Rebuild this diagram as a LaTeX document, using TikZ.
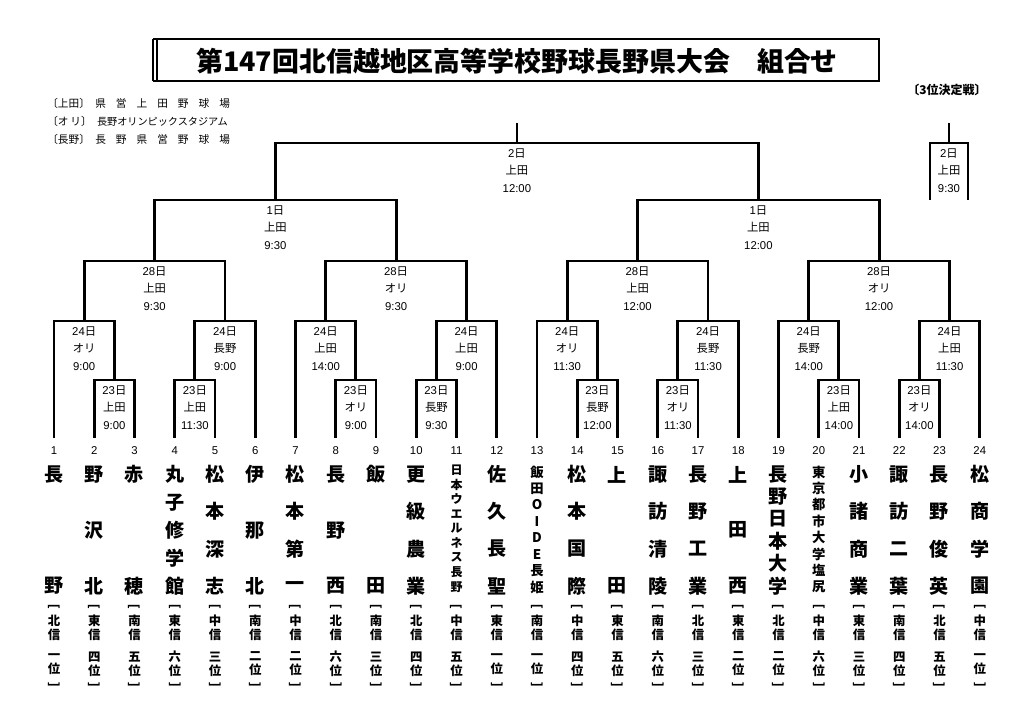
\documentclass[tikz,border=0pt]{standalone}
\usepackage{fontspec}
\setmainfont{Liberation Sans}
\newfontfamily\jp{Noto Sans CJK JP}
\begin{document}
\begin{tikzpicture}[x=0.75pt,y=-0.75pt,
  br/.style={line width=2.1pt},
  lbl/.style={font=\fontsize{8.5}{13.1}\selectfont, align=center, anchor=north, inner sep=0pt},
  num/.style={font=\fontsize{8.5}{10}\selectfont, inner sep=0pt},
  tch/.style={font=\jp\bfseries\fontsize{14.3}{14}\selectfont, inner sep=0pt},
  tsm/.style={font=\jp\bfseries\fontsize{9}{9}\selectfont, inner sep=0pt},
  tmd/.style={font=\jp\bfseries\fontsize{10}{10}\selectfont, inner sep=0pt},
  rk/.style={font=\jp\bfseries\fontsize{9.3}{10.5}\selectfont, inner sep=0pt, align=center},
  leg/.style={font=\jp\fontsize{8}{9}\selectfont, inner sep=0pt, anchor=west}]
\useasboundingbox (0,0) rectangle (1024,720);

\newcommand\team[6]{%
  \pgfmathsetmacro\tx{54+(#1-1)*40.25}%
  \foreach \c [count=\k] in {#6} {%
    \pgfmathsetmacro\yy{#2+(\k-1)*(#3-#2)/(#5-1)}%
    \node[#4] (c#1-\k) at (\tx,\yy) {\c};
  }}
\newcommand\rank[3]{%
  \pgfmathsetmacro\tx{54+(#1-1)*40.25}%
  \node[rk,rotate=-90] (r#1a) at (\tx,603) {［};
  \node[rk] (r#1b) at (\tx,628) {#2\\信};
  \node[rk] (r#1c) at (\tx,664) {#3\\位};
  \node[rk,rotate=-90] (r#1d) at (\tx,689) {］};}
\newcommand\mlab[4]{\node[lbl,yshift=-4pt] (L#1) at (#1) {#2{\jp 日}\\{\jp #3}\\#4};}

% title
\draw[line width=1.5pt] (153,39) -- (879,39) -- (879,81.5) -- (153,81.5);
\draw[line width=0.8pt] (153,39) -- (153,81.5);
\draw[line width=1.8pt] (157,39) -- (157,81.5);
\node[font=\jp\bfseries\fontsize{20.2}{24}\selectfont, inner sep=0pt] (title) at (517,61) {第147回北信越地区高等学校野球長野県大会　組合せ};

% legend
\node[leg] (lg1) at (47,103) {〔上田〕\hspace{4pt}\makebox[101pt][s]{県\hfill 営\hfill 上\hfill 田\hfill 野\hfill 球\hfill 場}};
\node[leg] (lg2) at (47,121) {〔オ\,リ〕\hspace{4pt}{\fontsize{7.6}{9}\selectfont 長野オリンピックスタジアム}};
\node[leg] (lg3) at (47,139) {〔長野〕\hspace{4pt}\makebox[101pt][s]{長\hfill 野\hfill 県\hfill 営\hfill 野\hfill 球\hfill 場}};
\node[font=\jp\bfseries\fontsize{9}{10}\selectfont, inner sep=0pt] (third3) at (947,90) {〔3位決定戦〕};

% team coordinates
\foreach \i in {1,...,24} {
  \pgfmathsetmacro\tx{54+(\i-1)*40.25}
  \coordinate (t\i) at (\tx,438);
  \node[num] (n\i) at (\tx,451) {\i};
}
% matches
\coordinate (a) at (114.375,380);
\coordinate (b) at (194.875,380);
\coordinate (c) at (355.875,380);
\coordinate (d) at (436.375,380);
\coordinate (e) at (597.375,380);
\coordinate (f) at (677.875,380);
\coordinate (g) at (838.875,380);
\coordinate (h) at (919.375,380);
\coordinate (p1) at (84.19,321);
\coordinate (p2) at (225.06,321);
\coordinate (p3) at (325.69,321);
\coordinate (p4) at (466.56,321);
\coordinate (p5) at (567.19,321);
\coordinate (p6) at (708.06,321);
\coordinate (p7) at (808.69,321);
\coordinate (p8) at (949.56,321);
\coordinate (q1) at (154.6,261);
\coordinate (q2) at (396.1,261);
\coordinate (q3) at (637.6,261);
\coordinate (q4) at (879.1,261);
\coordinate (s1) at (275.4,200);
\coordinate (s2) at (758.4,200);
\coordinate (fin) at (516.9,143);
\coordinate (fintop) at (516.9,123);
\coordinate (th) at (949,143);
\coordinate (thtop) at (949,123);
\coordinate (thL) at (930,200);
\coordinate (thR) at (968,200);

% bracket lines
\draw[br] (t2) |- (a) -| (t3);
\draw[br] (t4) |- (b) -| (t5);
\draw[br] (t8) |- (c) -| (t9);
\draw[br] (t10) |- (d) -| (t11);
\draw[br] (t14) |- (e) -| (t15);
\draw[br] (t16) |- (f) -| (t17);
\draw[br] (t20) |- (g) -| (t21);
\draw[br] (t22) |- (h) -| (t23);
\draw[br] (t1) |- (p1) -| (a);
\draw[br] (b) |- (p2) -| (t6);
\draw[br] (t7) |- (p3) -| (c);
\draw[br] (d) |- (p4) -| (t12);
\draw[br] (t13) |- (p5) -| (e);
\draw[br] (f) |- (p6) -| (t18);
\draw[br] (t19) |- (p7) -| (g);
\draw[br] (h) |- (p8) -| (t24);
\draw[br] (p1) |- (q1) -| (p2);
\draw[br] (p3) |- (q2) -| (p4);
\draw[br] (p5) |- (q3) -| (p6);
\draw[br] (p7) |- (q4) -| (p8);
\draw[br] (q1) |- (s1) -| (q2);
\draw[br] (q3) |- (s2) -| (q4);
\draw[br] (s1) |- (fin) -| (s2);
\draw[br] (fin) -- (fintop);
\draw[br] (thL) |- (th) -| (thR);
\draw[br] (th) -- (thtop);

% match labels
\mlab{a}{23}{上田}{9:00}
\mlab{b}{23}{上田}{11:30}
\mlab{c}{23}{オリ}{9:00}
\mlab{d}{23}{長野}{9:30}
\mlab{e}{23}{長野}{12:00}
\mlab{f}{23}{オリ}{11:30}
\mlab{g}{23}{上田}{14:00}
\mlab{h}{23}{オリ}{14:00}
\mlab{p1}{24}{オリ}{9:00}
\mlab{p2}{24}{長野}{9:00}
\mlab{p3}{24}{上田}{14:00}
\mlab{p4}{24}{上田}{9:00}
\mlab{p5}{24}{オリ}{11:30}
\mlab{p6}{24}{長野}{11:30}
\mlab{p7}{24}{長野}{14:00}
\mlab{p8}{24}{上田}{11:30}
\mlab{q1}{28}{上田}{9:30}
\mlab{q2}{28}{オリ}{9:30}
\mlab{q3}{28}{上田}{12:00}
\mlab{q4}{28}{オリ}{12:00}
\mlab{s1}{1}{上田}{9:30}
\mlab{s2}{1}{上田}{12:00}
\mlab{fin}{2}{上田}{12:00}
\mlab{th}{2}{上田}{9:30}

% team names
\team{1}{474.5}{586}{tch}{2}{長,野}
\team{2}{474.5}{586}{tch}{3}{野,沢,北}
\team{3}{474.5}{586}{tch}{2}{赤,穂}
\team{4}{474.5}{586}{tch}{5}{丸,子,修,学,館}
\team{5}{474.5}{586}{tch}{4}{松,本,深,志}
\team{6}{474.5}{586}{tch}{3}{伊,那,北}
\team{7}{474.5}{586}{tch}{4}{松,本,第,一}
\team{8}{474.5}{586}{tch}{3}{長,野,西}
\team{9}{474.5}{586}{tch}{2}{飯,田}
\team{10}{474.5}{586}{tch}{4}{更,級,農,業}
\team{11}{470}{587}{tsm}{9}{日,本,ウ,エ,ル,ネ,ス,長,野}
\team{12}{474.5}{586}{tch}{4}{佐,久,長,聖}
\team{13}{472}{587}{tmd}{8}{飯,田,O,I,D,E,長,姫}
\team{14}{474.5}{586}{tch}{4}{松,本,国,際}
\team{15}{474.5}{586}{tch}{2}{上,田}
\team{16}{474.5}{586}{tch}{4}{諏,訪,清,陵}
\team{17}{474.5}{586}{tch}{4}{長,野,工,業}
\team{18}{474.5}{586}{tch}{3}{上,田,西}
\team{19}{474.5}{586}{tch}{6}{長,野,日,本,大,学}
\team{20}{472}{587}{tmd}{8}{東,京,都,市,大,学,塩,尻}
\team{21}{474.5}{586}{tch}{4}{小,諸,商,業}
\team{22}{474.5}{586}{tch}{4}{諏,訪,二,葉}
\team{23}{474.5}{586}{tch}{4}{長,野,俊,英}
\team{24}{474.5}{586}{tch}{4}{松,商,学,園}

% ranks
\rank{1}{北}{一}
\rank{2}{東}{四}
\rank{3}{南}{五}
\rank{4}{東}{六}
\rank{5}{中}{三}
\rank{6}{南}{二}
\rank{7}{中}{二}
\rank{8}{北}{六}
\rank{9}{南}{三}
\rank{10}{北}{四}
\rank{11}{中}{五}
\rank{12}{東}{一}
\rank{13}{南}{一}
\rank{14}{中}{四}
\rank{15}{東}{五}
\rank{16}{南}{六}
\rank{17}{北}{三}
\rank{18}{東}{二}
\rank{19}{北}{二}
\rank{20}{中}{六}
\rank{21}{東}{三}
\rank{22}{南}{四}
\rank{23}{北}{五}
\rank{24}{中}{一}
\end{tikzpicture}
\end{document}
